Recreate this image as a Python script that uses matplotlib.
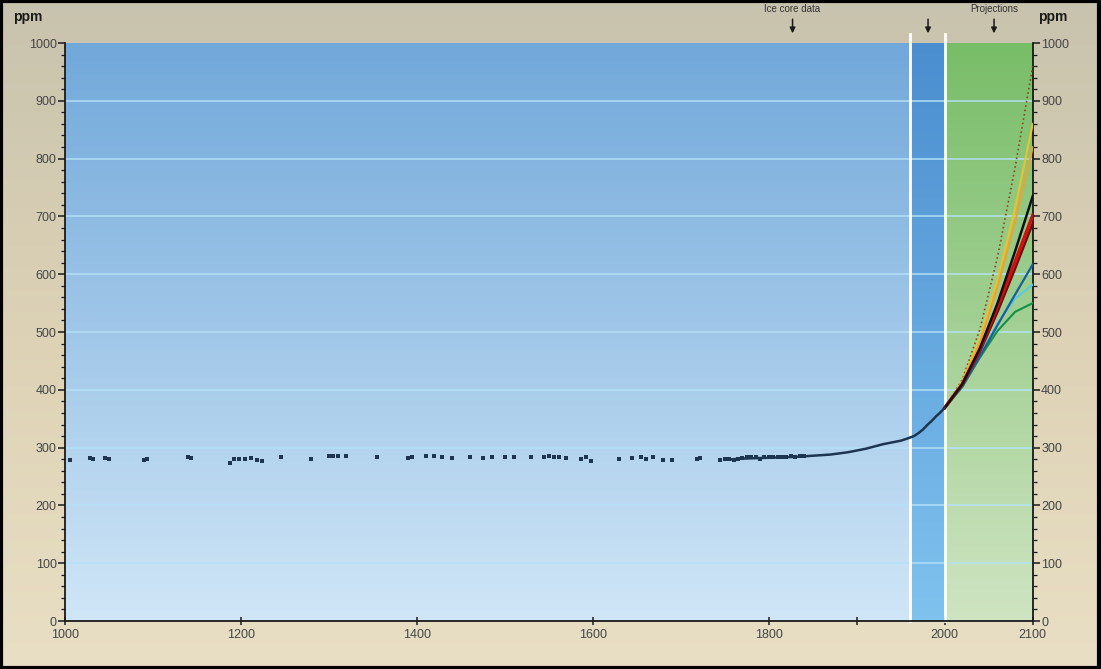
import numpy as np
import matplotlib
matplotlib.use("Agg")
import matplotlib.pyplot as plt
from matplotlib.colors import LinearSegmentedColormap
from matplotlib.patches import Rectangle
from matplotlib.transforms import blended_transform_factory

plt.rcParams['font.family'] = ['Liberation Sans', 'DejaVu Sans']

# Ice core record (year, ppm)
ice_years = [1006, 1028, 1032, 1046, 1050, 1090, 1093, 1140, 1143, 1188, 1192, 1198,
             1205, 1212, 1218, 1224, 1245, 1280, 1300, 1305, 1310, 1320, 1355, 1390,
             1395, 1410, 1420, 1428, 1440, 1460, 1475, 1485, 1500, 1510, 1530, 1545,
             1550, 1556, 1562, 1570, 1586, 1592, 1598, 1630, 1645, 1655, 1660, 1668,
             1680, 1690, 1718, 1722, 1745, 1750, 1755, 1760, 1765, 1770, 1775, 1780,
             1785, 1790, 1795, 1800, 1805, 1810, 1815, 1820, 1825, 1830, 1835, 1840]
ice_ppm = [279, 282, 281, 282, 280, 278, 281, 284, 282, 273, 280, 281,
           280, 282, 279, 277, 283, 281, 285, 286, 286, 285, 284, 282,
           284, 286, 285, 283, 282, 284, 282, 283, 284, 283, 283, 284,
           285, 283, 284, 282, 281, 283, 277, 280, 282, 284, 281, 283,
           279, 278, 280, 282, 279, 280, 281, 279, 280, 282, 283, 284,
           283, 281, 284, 283, 284, 283, 284, 284, 285, 284, 285, 285]

# Smoothed record, late ice core through direct measurements
rec_years = [1750, 1770, 1790, 1810, 1830, 1850, 1860, 1870, 1880, 1890, 1900, 1910,
             1920, 1930, 1940, 1950, 1958, 1965, 1970, 1975, 1980, 1985, 1990, 1995, 2000]
rec_ppm = [279, 281, 282, 283, 284, 286, 287, 288, 290, 292, 295, 298,
           302, 306, 309, 312, 316, 320, 325, 331, 339, 346, 354, 361, 369]

# Emission scenario projections
proj_years = [2000, 2020, 2040, 2060, 2080, 2100]
a1fi = [369, 418, 505, 630, 785, 960]
a2_yellow = [369, 414, 488, 590, 715, 860]
a2_orange = [369, 412, 482, 578, 690, 820]
is92a = [369, 410, 472, 550, 640, 735]
a1b = [369, 410, 470, 545, 622, 702]
a1b_dark = [369, 409, 466, 535, 610, 688]
b2 = [369, 406, 458, 512, 565, 617]
a1t = [369, 406, 460, 515, 558, 582]
b1 = [369, 405, 456, 502, 535, 550]

period_edges = [1000, 1960, 2000, 2100]

fig = plt.figure(figsize=(11.01, 6.69), dpi=100)

# tan background
bg = fig.add_axes([0, 0, 1, 1], zorder=-5)
bg.imshow(np.linspace(0, 1, 256).reshape(-1, 1), extent=[0, 1, 0, 1], origin='lower',
          aspect='auto', cmap=LinearSegmentedColormap.from_list('bg', ['#e9dfc4', '#ddd2b6', '#c8c3ae']))
bg.axis('off')

ax = fig.add_axes([0.059, 0.0717, 0.879, 0.864])


def band(x0, x1, top, bottom):
    cmap = LinearSegmentedColormap.from_list('b', [bottom, top])
    ax.imshow(np.linspace(0, 1, 256).reshape(-1, 1), extent=[x0, x1, 0, 1000],
              origin='lower', aspect='auto', cmap=cmap, zorder=0)


band(period_edges[0], period_edges[1], '#71a8da', '#d0e6f7')
band(period_edges[1], period_edges[2], '#4b8ed0', '#80c2ee')
band(period_edges[2], period_edges[3], '#78bd68', '#cfe4c2')

for y in range(100, 1000, 100):
    ax.axhline(y, color='#b4e2f6', lw=1.4, alpha=0.75, zorder=1)
for x in period_edges[1:3]:
    ax.plot([x, x], [0, 1015], color='white', lw=2, zorder=2, clip_on=False)

ax.scatter(ice_years, ice_ppm, s=6, marker='s', color='#1c3550', zorder=4, linewidths=0)
ax.plot(rec_years, rec_ppm, color='#1c3550', lw=1.8, zorder=4)

ax.plot(proj_years, a1fi, color='#8a4a18', lw=1.2, ls=':', zorder=3)
ax.plot(proj_years, a2_yellow, color='#e8c42a', lw=1.5, zorder=3)
ax.plot(proj_years, a2_orange, color='#f0a030', lw=1.5, zorder=3)
ax.plot(proj_years, b1, color='#12904a', lw=1.5, zorder=3)
ax.plot(proj_years, a1t, color='#5cc8e0', lw=1.5, zorder=3)
ax.plot(proj_years, b2, color='#1a5f9a', lw=1.6, zorder=3)
ax.plot(proj_years, a1b_dark, color='#7a0a0a', lw=1.8, zorder=3)
ax.plot(proj_years, a1b, color='#d01010', lw=2.4, zorder=3)
ax.plot(proj_years, is92a, color='#111111', lw=1.8, zorder=3)

ax.set_xlim(1000, 2100)
ax.set_ylim(0, 1000)

ax.set_xticks([1000, 1200, 1400, 1600, 1800, 2000, 2100])
ax.set_xticks([1900], minor=True)
ax.set_yticks(range(0, 1001, 100))
ax.set_yticks(range(0, 1001, 20), minor=True)

ax.spines['top'].set_visible(False)
for side in ['left', 'right', 'bottom']:
    ax.spines[side].set_color('#1a1a1a')
    ax.spines[side].set_linewidth(1.3)

ax.tick_params(axis='y', which='both', left=True, right=True, labelleft=True, labelright=True,
               direction='out', colors='#1a1a1a', labelcolor='#444444', labelsize=9, pad=1)
ax.tick_params(axis='y', which='major', length=5, width=1.1)
ax.tick_params(axis='y', which='minor', length=3, width=0.9)
ax.tick_params(axis='x', which='both', direction='inout', length=6, width=1.1,
               colors='#1a1a1a', labelcolor='#444444', labelsize=9, pad=3)

fig.text(0.012, 0.985, 'ppm', fontsize=10, fontweight='bold', color='#1a1a1a', va='top')
fig.text(0.943, 0.985, 'ppm', fontsize=10, fontweight='bold', color='#1a1a1a', va='top')

# period labels with arrows
top_trans = blended_transform_factory(ax.transData, fig.transFigure)
for x, name in [(1827, 'Ice core data'), (2056, 'Projections')]:
    ax.text(x, 0.979, name, ha='center', va='bottom', fontsize=7, color='#333333',
            transform=top_trans, clip_on=False)
for x in [1827, 1981, 2056]:
    ax.annotate('', xy=(x, 1012), xytext=(x, 1046), xycoords='data',
                arrowprops=dict(arrowstyle='-|>', color='#1a1a1a', lw=1.1, mutation_scale=8),
                annotation_clip=False)

fig.patches.append(Rectangle((0.001, 0.002), 0.997, 0.996, transform=fig.transFigure,
                             fill=False, edgecolor='black', lw=3))

fig.savefig('out.png', dpi=100)
